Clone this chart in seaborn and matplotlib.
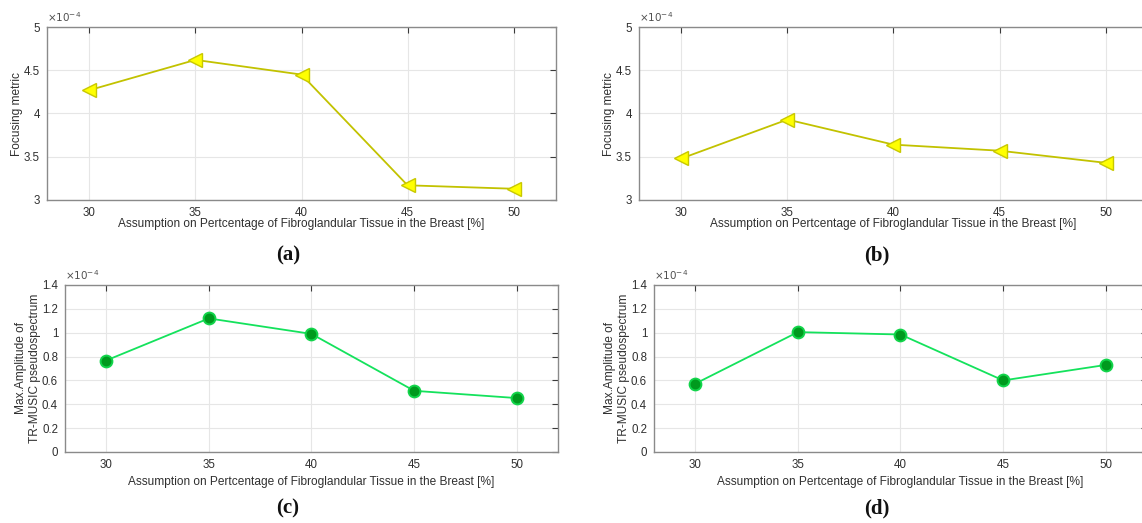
import matplotlib
matplotlib.use("Agg")
import matplotlib.pyplot as plt
from matplotlib.ticker import FuncFormatter, MultipleLocator
import seaborn as sns
import pandas as pd

# Assumed percentage of fibroglandular tissue
fibro_pct = [30, 35, 40, 45, 50]

# Focusing metric, two scenarios
focus_a = [4.27e-4, 4.62e-4, 4.45e-4, 3.17e-4, 3.13e-4]
focus_b = [3.48e-4, 3.93e-4, 3.64e-4, 3.57e-4, 3.43e-4]

# Max amplitude of TR-MUSIC pseudospectrum, two scenarios
music_c = [0.767e-4, 1.12e-4, 0.99e-4, 0.513e-4, 0.452e-4]
music_d = [0.572e-4, 1.005e-4, 0.985e-4, 0.60e-4, 0.73e-4]

xlabel_text = "Assumption on Pertcentage of Fibroglandular Tissue in the Breast [%]"
focus_ylabel = "Focusing metric"
music_ylabel = "Max.Amplitude of\nTR-MUSIC pseudospectrum"
panel_tags = ["(a)", "(b)", "(c)", "(d)"]

sns.set_theme(style="white")
plt.rcParams["font.family"] = ["Liberation Sans", "DejaVu Sans"]

W, H = 1142, 523
fig = plt.figure(figsize=(W / 100, H / 100), dpi=100)


def px_axes(left, top, right, bottom):
    return fig.add_axes([left / W, 1 - bottom / H, (right - left) / W, (bottom - top) / H])


ax_a = px_axes(47, 27, 556, 200)
ax_b = px_axes(639, 27, 1148, 200)
ax_c = px_axes(65, 285, 558, 452)
ax_d = px_axes(654, 285, 1147, 452)

yellow_style = dict(color="#c2c200", marker="<", markersize=9.5,
                    markerfacecolor="#ffff00", markeredgecolor="#c8c800",
                    markeredgewidth=1.0, linewidth=1.3)
green_style = dict(color="#14e25c", marker="o", markersize=8.5,
                   markerfacecolor="#009a1e", markeredgecolor="#12d44a",
                   markeredgewidth=1.4, linewidth=1.3)

spine_col = "#8a8a8a"
tick_col = "#3a3a3a"


def style_axes(ax, ylim, ystep, ylabel, xpad, ypad):
    ax.set_xlim(28, 52)
    ax.set_ylim(*ylim)
    ax.xaxis.set_major_locator(MultipleLocator(5))
    ax.yaxis.set_major_locator(MultipleLocator(ystep))
    ax.yaxis.set_major_formatter(FuncFormatter(lambda v, p: f"{v / 1e-4:g}"))
    ax.grid(True, color="#e6e6e6", linewidth=0.8)
    ax.set_axisbelow(True)
    for s in ax.spines.values():
        s.set_visible(True)
        s.set_color(spine_col)
        s.set_linewidth(1.0)
    ax.tick_params(direction="in", length=4, width=0.8, color=tick_col,
                   top=True, right=True, labelsize=8.3, labelcolor="#303030", pad=5)
    ax.set_xlabel(xlabel_text, fontsize=8.6, color="#303030", labelpad=xpad)
    ax.set_ylabel(ylabel, fontsize=8.6, color="#303030", labelpad=ypad)
    ax.text(0.0, 1.015, r"$\times10^{-4}$", transform=ax.transAxes,
            fontsize=7.5, color="#505050", ha="left", va="bottom")


df_a = pd.DataFrame({"x": fibro_pct, "y": focus_a})
df_b = pd.DataFrame({"x": fibro_pct, "y": focus_b})
df_c = pd.DataFrame({"x": fibro_pct, "y": music_c})
df_d = pd.DataFrame({"x": fibro_pct, "y": music_d})

sns.lineplot(data=df_a, x="x", y="y", ax=ax_a, **yellow_style)
sns.lineplot(data=df_b, x="x", y="y", ax=ax_b, **yellow_style)
sns.lineplot(data=df_c, x="x", y="y", ax=ax_c, **green_style)
sns.lineplot(data=df_d, x="x", y="y", ax=ax_d, **green_style)

style_axes(ax_a, (3e-4, 5e-4), 0.5e-4, focus_ylabel, xpad=-1, ypad=0.5)
style_axes(ax_b, (3e-4, 5e-4), 0.5e-4, focus_ylabel, xpad=-1, ypad=0.5)
style_axes(ax_c, (0, 1.4e-4), 0.2e-4, music_ylabel, xpad=4, ypad=0.5)
style_axes(ax_d, (0, 1.4e-4), 0.2e-4, music_ylabel, xpad=4, ypad=0.5)

# Panel tags under each subplot
tag_pos = [(288, 255), (877, 255), (288, 508), (877, 508)]
for tag, (tx, ty) in zip(panel_tags, tag_pos):
    fig.text(tx / W, 1 - ty / H, tag, ha="center", va="center",
             fontsize=15, fontweight="bold", family=["Liberation Serif", "DejaVu Serif"],
             color="#111111")

fig.savefig("out.png", dpi=100)
